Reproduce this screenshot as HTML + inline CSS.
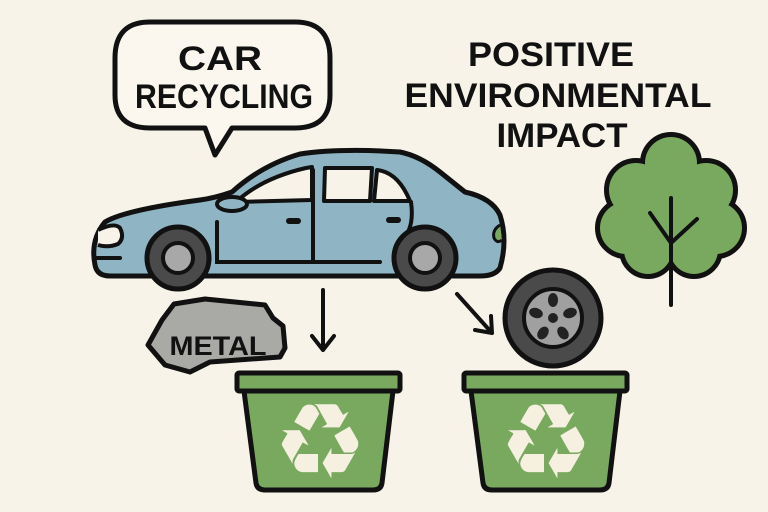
<!DOCTYPE html>
<html><head><meta charset="utf-8"><style>
html,body{margin:0;padding:0;background:#f8f3e9;}
svg{display:block}
text{font-family:"Liberation Sans Narrow","Liberation Sans",sans-serif;font-weight:bold;fill:#111;}
</style></head><body>
<svg width="768" height="512" viewBox="0 0 768 512" xmlns="http://www.w3.org/2000/svg">
<rect width="768" height="512" fill="#f8f3e9"/>
<!-- speech bubble -->
<path d="M150,22 H295 Q330,22 330,58 V95 Q330,128 295,128 H232 L215,155 L205,128 H150 Q115,128 115,95 V58 Q115,22 150,22 Z" fill="#fbf7ee" stroke="#111" stroke-width="5" stroke-linejoin="round"/>
<text x="220" y="70" font-size="34" text-anchor="middle" textLength="84" lengthAdjust="spacingAndGlyphs">CAR</text>
<text x="224" y="108" font-size="34" text-anchor="middle" textLength="178" lengthAdjust="spacingAndGlyphs">RECYCLING</text>
<text x="551" y="66" font-size="34" text-anchor="middle" textLength="166" lengthAdjust="spacingAndGlyphs">POSITIVE</text>
<text x="558" y="107" font-size="34" text-anchor="middle" textLength="307" lengthAdjust="spacingAndGlyphs">ENVIRONMENTAL</text>
<text x="562" y="147" font-size="34" text-anchor="middle" textLength="131" lengthAdjust="spacingAndGlyphs">IMPACT</text>
<!-- tree -->
<g stroke="#111" stroke-width="10" fill="#111">
<circle cx="671" cy="163" r="26"/><circle cx="636" cy="190" r="27"/><circle cx="706" cy="190" r="27"/>
<circle cx="626" cy="228" r="26"/><circle cx="716" cy="228" r="26"/><circle cx="648" cy="250" r="24"/><circle cx="694" cy="250" r="24"/><circle cx="671" cy="215" r="35"/>
</g>
<g fill="#79a95f">
<circle cx="671" cy="163" r="26"/><circle cx="636" cy="190" r="27"/><circle cx="706" cy="190" r="27"/>
<circle cx="626" cy="228" r="26"/><circle cx="716" cy="228" r="26"/><circle cx="648" cy="250" r="24"/><circle cx="694" cy="250" r="24"/><circle cx="671" cy="215" r="35"/>
</g>
<path d="M671,198 V305 M650,213 L671,243 L697,219" stroke="#111" stroke-width="4" fill="none" stroke-linecap="round"/>
<!-- car -->
<path d="M95,265 Q90,240 105,222 Q125,210 200,200 Q215,198 232,192 Q262,165 300,154 Q340,148 400,152 Q420,156 440,172 L465,192 Q492,198 500,215 Q508,240 500,268 Q495,276 480,276 L110,276 Q97,276 95,265 Z" fill="#8fb5c4" stroke="#111" stroke-width="5" stroke-linejoin="round"/>
<path d="M236,202 Q262,178 306,168 L312,167 L312,200 Z" fill="#f8f3e9" stroke="#111" stroke-width="4" stroke-linejoin="round"/>
<path d="M325,168 L372,168 L370,201 L324,201 Z" fill="#f8f3e9" stroke="#111" stroke-width="4" stroke-linejoin="round"/>
<path d="M377,170 Q398,172 410,201 L374,201 Z" fill="#f8f3e9" stroke="#111" stroke-width="4" stroke-linejoin="round"/>
<path d="M217,222 V262 L380,262 M313,170 L313,262 M411,202 Q415,230 400,242" stroke="#111" stroke-width="4" fill="none" stroke-linecap="round"/>
<ellipse cx="232" cy="204" rx="15" ry="7" fill="#8fb5c4" stroke="#111" stroke-width="4"/>
<rect x="286" y="218" width="15" height="6" rx="3" fill="#111"/>
<rect x="386" y="217" width="15" height="6" rx="3" fill="#111"/>
<path d="M98,230 Q115,222 120,228 Q125,238 118,244 Q108,248 98,245" fill="#f8f3e9" stroke="#111" stroke-width="4"/>
<path d="M96,258 H120" stroke="#111" stroke-width="4" stroke-linecap="round"/>
<path d="M500,225 Q492,230 494,238 Q497,244 502,240" fill="#79a95f" stroke="#111" stroke-width="3"/>
<circle cx="178" cy="258" r="31" fill="#4a4a4a" stroke="#111" stroke-width="5"/>
<circle cx="178" cy="258" r="15" fill="#a8a8a8" stroke="#111" stroke-width="4"/>
<circle cx="425" cy="258" r="31" fill="#4a4a4a" stroke="#111" stroke-width="5"/>
<circle cx="425" cy="258" r="15" fill="#a8a8a8" stroke="#111" stroke-width="4"/>
<!-- metal -->
<path d="M174,304 L205,299 L265,305 L273,318 L283,326 L285,348 L280,357 L210,362 L190,372 L165,365 L148,345 L162,320 Z" fill="#a9a9a5" stroke="#111" stroke-width="5" stroke-linejoin="round"/>
<text x="218" y="355" font-size="27" text-anchor="middle" textLength="97" lengthAdjust="spacingAndGlyphs">METAL</text>
<!-- arrows -->
<path d="M323,290 V350 M312,336 L323,350 L334,336" stroke="#111" stroke-width="4" fill="none" stroke-linecap="round" stroke-linejoin="round"/>
<path d="M457,294 L492,333 M475,330 L492,333 L491,316" stroke="#111" stroke-width="4" fill="none" stroke-linecap="round" stroke-linejoin="round"/>
<!-- tire -->
<circle cx="553" cy="318" r="48" fill="#4a4a4a" stroke="#111" stroke-width="5"/>
<circle cx="553" cy="318" r="29" fill="#a0a0a0" stroke="#111" stroke-width="4"/>
<g fill="#222">
<circle cx="553" cy="318" r="5"/>
<ellipse cx="553" cy="300" rx="5" ry="7"/>
<ellipse cx="570" cy="313" rx="5" ry="7" transform="rotate(72 570 313)"/>
<ellipse cx="563" cy="333" rx="5" ry="7" transform="rotate(144 563 333)"/>
<ellipse cx="543" cy="333" rx="5" ry="7" transform="rotate(216 543 333)"/>
<ellipse cx="536" cy="313" rx="5" ry="7" transform="rotate(288 536 313)"/>
</g>
<!-- bins -->
<g stroke="#111" stroke-width="5" stroke-linejoin="round" fill="#79a95f">
<path d="M244,391 L256,483 Q257,490 265,490 L373,490 Q381,490 382,483 L393,391 Z"/>
<rect x="237" y="373" width="163" height="18" rx="2"/>
<path d="M471,391 L483,483 Q484,490 492,490 L600,490 Q608,490 609,483 L620,391 Z"/>
<rect x="464" y="373" width="163" height="18" rx="2"/>
</g>
<text x="320" y="478" font-size="105" text-anchor="middle" style="font-family:'DejaVu Sans',sans-serif;font-weight:normal;fill:#f5f0e0">♻</text>
<text x="546" y="478" font-size="105" text-anchor="middle" style="font-family:'DejaVu Sans',sans-serif;font-weight:normal;fill:#f5f0e0">♻</text>
</svg>
</body></html>
